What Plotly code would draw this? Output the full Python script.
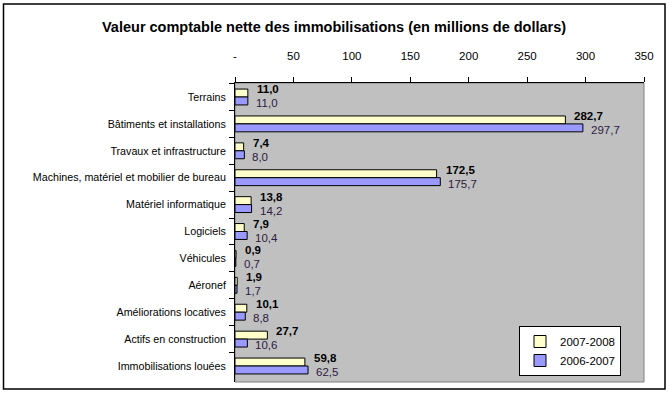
import plotly.graph_objects as go

categories = ["Terrains", "Bâtiments et installations", "Travaux et infrastructure",
              "Machines, matériel et mobilier de bureau", "Matériel informatique",
              "Logiciels", "Véhicules", "Aéronef", "Améliorations locatives",
              "Actifs en construction", "Immobilisations louées"]
values_2008 = [11.0, 282.7, 7.4, 172.5, 13.8, 7.9, 0.9, 1.9, 10.1, 27.7, 59.8]
values_2007 = [11.0, 297.7, 8.0, 175.7, 14.2, 10.4, 0.7, 1.7, 8.8, 10.6, 62.5]
tick_vals = [0, 50, 100, 150, 200, 250, 300, 350]
tick_text = ["-", "50", "100", "150", "200", "250", "300", "350"]

FONT = "Liberation Sans, Arial, sans-serif"

def fr(v):
    return f"{v:.1f}".replace(".", ",")

fig = go.Figure()
fig.add_trace(go.Bar(y=categories, x=values_2008, orientation="h", name="2007-2008",
                     marker=dict(color="#FFFFCC", line=dict(color="#000000", width=1)),
                     legendgroup="a", hoverinfo="x+y"))
fig.add_trace(go.Bar(y=categories, x=values_2007, orientation="h", name="2006-2007",
                     marker=dict(color="#9999FF", line=dict(color="#000000", width=1)),
                     legendgroup="b", hoverinfo="x+y"))

annotations = []
for c, v in zip(categories, values_2008):
    annotations.append(dict(x=v, y=c, xref="x", yref="y", text="<b>" + fr(v) + "</b>",
                            showarrow=False, xanchor="left", yanchor="middle",
                            xshift=7, yshift=8,
                            font=dict(family=FONT, size=11.5, color="#000000")))
for c, v in zip(categories, values_2007):
    annotations.append(dict(x=v, y=c, xref="x", yref="y", text=fr(v),
                            showarrow=False, xanchor="left", yanchor="middle",
                            xshift=6, yshift=-6,
                            font=dict(family=FONT, size=11.5, color="#2E1A40")))

annotations.append(dict(text="<b>Valeur comptable nette des immobilisations (en millions de dollars)</b>",
                        xref="paper", yref="paper", x=(333.5 - 235) / 409, y=(382 - 27) / 299,
                        xanchor="center", yanchor="middle", showarrow=False,
                        font=dict(family=FONT, size=14.5, color="#000000")))

shapes = [
    dict(type="rect", xref="paper", yref="paper", x0=0, x1=1, y0=0, y1=1,
         line=dict(color="#808080", width=1), layer="below"),
    dict(type="rect", xref="paper", yref="paper",
         x0=(3.5 - 235) / 409, x1=(665 - 235) / 409,
         y0=(382 - 389) / 299, y1=(382 - 4) / 299,
         line=dict(color="#000000", width=1.5)),
]

fig.update_layout(
    width=669, height=393,
    margin=dict(l=235, r=25, t=83, b=11),
    paper_bgcolor="#FFFFFF", plot_bgcolor="#C0C0C0",
    barmode="group", bargap=0.41, bargroupgap=0,
    font=dict(family=FONT, size=11, color="#000000"),
    showlegend=True,
    legend=dict(x=(570 - 235) / 409, y=(382 - 326) / 299, xanchor="center", yanchor="top",
                bgcolor="#FFFFFF", bordercolor="#000000", borderwidth=1,
                font=dict(family=FONT, size=11.5, color="#000000"),
                traceorder="normal", tracegroupgap=2, itemwidth=30),
    annotations=annotations, shapes=shapes,
    xaxis=dict(side="top", range=[0, 350], tickvals=tick_vals, ticktext=tick_text,
               showgrid=False, zeroline=False, showline=True, linecolor="#000000", linewidth=1,
               ticks="outside", ticklen=5, tickcolor="#000000", ticklabelstandoff=12,
               tickfont=dict(family=FONT, size=11.5, color="#000000"), fixedrange=True),
    yaxis=dict(type="category", autorange="reversed", showgrid=False, zeroline=False,
               showline=True, linecolor="#000000", linewidth=1,
               ticks="outside", ticklen=5, tickcolor="#000000", tickson="boundaries",
               ticklabelstandoff=6,
               tickfont=dict(family=FONT, size=10.7, color="#000000"), fixedrange=True),
)

fig.write_html("out.html", config={"displayModeBar": False},
               post_script="document.body.style.margin='0';")
